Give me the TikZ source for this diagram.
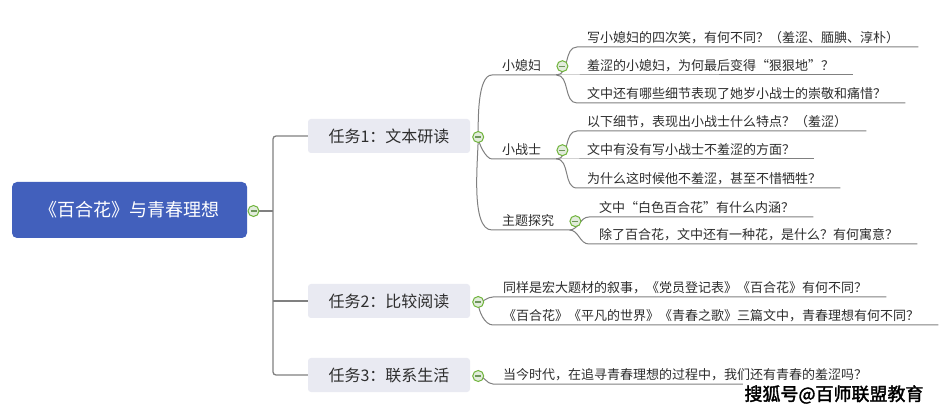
\documentclass[tikz,border=0pt]{standalone}
\usepackage{fontspec}
\setmainfont{Noto Sans CJK SC}
\newfontfamily\wmfont[FakeBold=2]{Noto Sans CJK SC}
\usetikzlibrary{calc,backgrounds}
\definecolor{rootblue}{RGB}{66,96,188}
\definecolor{taskfill}{RGB}{233,234,242}
\definecolor{linegray}{RGB}{128,128,128}
\definecolor{ringgreen}{RGB}{112,180,60}
\definecolor{ringfill}{RGB}{226,236,220}
\definecolor{dashgreen}{RGB}{110,150,90}
\definecolor{txt}{RGB}{45,45,45}
\begin{document}
\begin{tikzpicture}[x=1pt,y=-1pt,
  rootbox/.style={fill=rootblue, rounded corners=5pt, minimum width=235pt, minimum height=56pt, text=white, font=\fontsize{18}{20}\selectfont, inner sep=0pt},
  taskbox/.style={fill=taskfill, rounded corners=3pt, minimum width=162pt, minimum height=34pt, text=txt, font=\fontsize{16}{18}\selectfont, inner sep=0pt},
  leafbase/.style={anchor=south west, inner xsep=10pt, inner ysep=2.6pt, text height=10pt, text depth=2pt, text=txt, font=\fontsize{13}{15}\selectfont},
  leaf/.style={leafbase, execute at end node={\hspace*{9pt}}},
  subtopic/.style={leafbase, execute at end node={\hspace*{5pt}}},
  collapse/.style={circle, draw=ringgreen, fill=ringfill, line width=1pt, minimum size=11pt, inner sep=0pt,
    path picture={\draw[dashgreen, line width=1.3pt] ($(path picture bounding box.center)+(-3,0)$) -- ($(path picture bounding box.center)+(3,0)$);}},
  conn/.style={draw=linegray, line width=1pt},
  trunk/.style={draw=linegray, line width=1.3pt},
]
\useasboundingbox (0,0) rectangle (946,414);

% root and tasks
\node[rootbox] (root) at (129.5,210) {《百合花》与青春理想};
\node[collapse] (rc) at (253.5,211) {};
\coordinate (jt) at (273,211);
\node[taskbox] (t1) at (389,136) {任务1：文本研读};
\node[taskbox] (t2) at (389,301) {任务2：比较阅读};
\node[taskbox] (t3) at (389,375) {任务3：联系生活};
\node[collapse] (c1) at ($(t1.east)+(8,1)$) {};
\node[collapse] (c2) at ($(t2.east)+(8,1)$) {};
\node[collapse] (c3) at ($(t3.east)+(8,1)$) {};

% level 2
\node[subtopic] (s1) at (492,75) {小媳妇};
\node[subtopic] (s2) at (492,159) {小战士};
\node[subtopic] (s3) at (492,230) {主题探究};
\node[collapse] (cs1) at ($(s1.east)+(6,0)$) {};
\node[collapse] (cs2) at ($(s2.east)+(6,0)$) {};
\node[collapse] (cs3) at ($(s3.east)+(6,0)$) {};

% leaves
\node[leaf] (a1) at (577,47) {写小媳妇的四次笑，有何不同？（羞涩、腼腆、淳朴）};
\node[leaf] (a2) at (577,75) {羞涩的小媳妇，为何最后变得“狠狠地”？};
\node[leaf] (a3) at (577,103) {文中还有哪些细节表现了她岁小战士的崇敬和痛惜？};
\node[leaf] (b1) at (577,131) {以下细节，表现出小战士什么特点？（羞涩）};
\node[leaf] (b2) at (577,159) {文中有没有写小战士不羞涩的方面？};
\node[leaf] (b3) at (577,188) {为什么这时候他不羞涩，甚至不惜牺牲？};
\node[leaf] (d1) at (589,217) {文中“白色百合花”有什么内涵？};
\node[leaf] (d2) at (589,244) {除了百合花，文中还有一种花，是什么？有何寓意？};
\node[leaf] (e1) at (493,297) {同样是宏大题材的叙事，《党员登记表》《百合花》有何不同？};
\node[leaf] (e2) at (493,325) {《百合花》《平凡的世界》《青春之歌》三篇文中，青春理想有何不同？};
\node[leaf] (f1) at (493,384) {当今时代，在追寻青春理想的过程中，我们还有青春的羞涩吗？};

% watermark
\node[fill=white, inner sep=1pt, minimum height=23pt, text=black, font=\wmfont\fontsize{18}{20}\selectfont] (wm) at (834,394.5) {搜狐号@百师联盟教育};

\begin{pgfonlayer}{background}
\fill[white] (0,0) rectangle (946,414);
\draw[trunk, line width=2pt] (rc.center) -- (jt);
\draw[trunk, rounded corners=3pt] (t1.west) -| (jt) |- (t3.west);
\draw[trunk] (jt |- t2.west) -- (t2.west);

\draw[conn] (c1.center) to[out=90,in=180,looseness=0.6] (s1.south west) -- (s1.south east);
\draw[conn] (c1.center) to[out=-90,in=180,looseness=0.6] (s2.south west) -- (s2.south east);
\draw[conn] (c1.center) to[out=-90,in=180,looseness=0.6] (s3.south west) -- (s3.south east);

\draw[conn] (s1.south east) to[out=0,in=180] (a1.south west) -- (a1.south east);
\draw[conn] (s1.south east) to[out=0,in=180] (a2.south west) -- (a2.south east);
\draw[conn] (s1.south east) to[out=0,in=180] (a3.south west) -- (a3.south east);
\draw[conn] (s2.south east) to[out=0,in=180] (b1.south west) -- (b1.south east);
\draw[conn] (s2.south east) to[out=0,in=180] (b2.south west) -- (b2.south east);
\draw[conn] (s2.south east) to[out=0,in=180] (b3.south west) -- (b3.south east);
\draw[conn] (s3.south east) to[out=0,in=180] (d1.south west) -- (d1.south east);
\draw[conn] (s3.south east) to[out=0,in=180] (d2.south west) -- (d2.south east);

\draw[conn] (c2.center) to[out=0,in=180] (e1.south west) -- (e1.south east);
\draw[conn] (c2.center) to[out=-90,in=180,looseness=0.8] (e2.south west) -- (e2.south east);
\draw[conn] (c3.center) to[out=0,in=180] (f1.south west) -- (f1.south east);
\end{pgfonlayer}
\end{tikzpicture}
\end{document}
